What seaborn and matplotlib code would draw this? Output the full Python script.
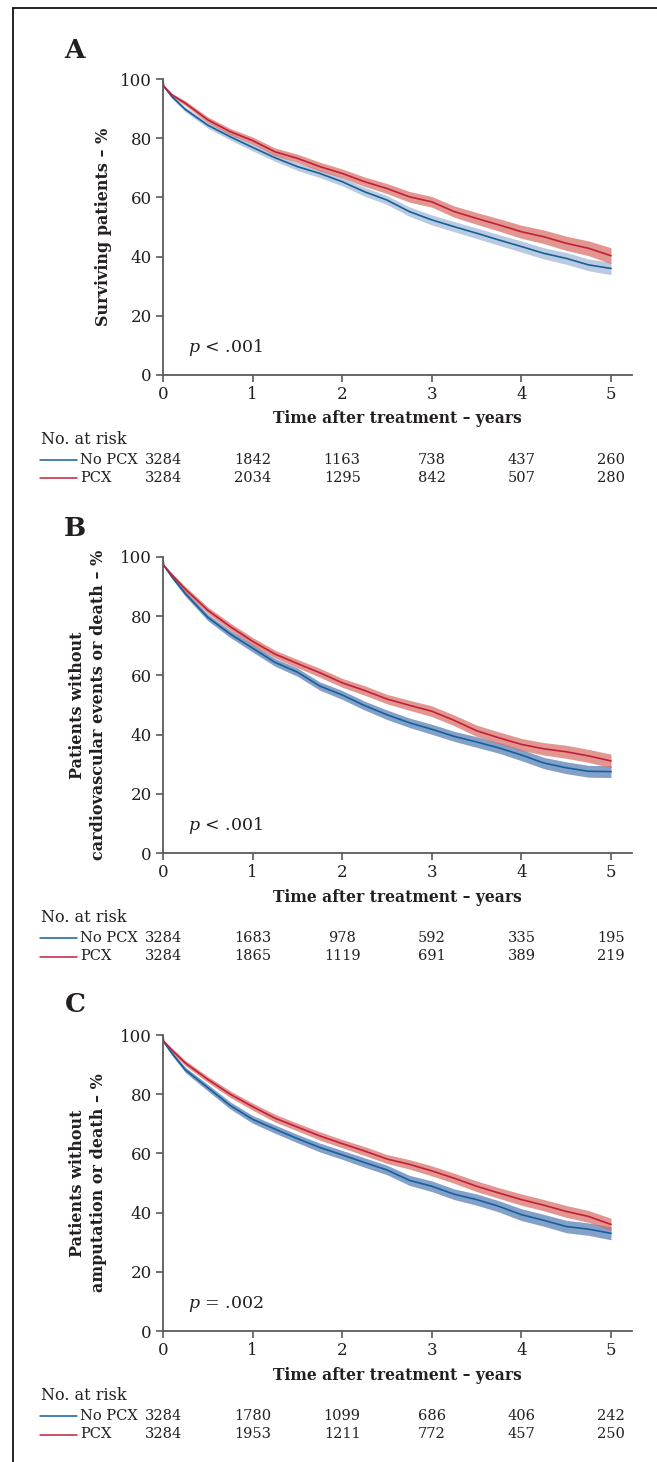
import numpy as np
import matplotlib
matplotlib.use("Agg")
import matplotlib.pyplot as plt
from matplotlib.lines import Line2D
from matplotlib.transforms import blended_transform_factory
import seaborn as sns

# ---- data -------------------------------------------------------------
years = [0, 0.005, 0.1, 0.25, 0.5, 0.75, 1.0, 1.25, 1.5, 1.75, 2.0, 2.25,
         2.5, 2.75, 3.0, 3.25, 3.5, 3.75, 4.0, 4.25, 4.5, 4.75, 5.0]

# A: overall survival (%)
a_nopcx = [100, 97.7, 94.0, 89.7, 84.4, 80.5, 76.9, 73.4, 70.4, 68.1, 65.3, 61.9,
           59.1, 55.2, 52.4, 50.1, 47.9, 45.6, 43.4, 41.1, 39.4, 37.2, 36.0]
a_pcx = [100, 97.7, 94.6, 91.8, 86.2, 82.2, 79.2, 75.4, 73.2, 70.4, 68.1, 65.3,
         63.0, 60.2, 58.5, 55.2, 52.9, 50.7, 48.4, 46.7, 44.5, 42.8, 40.3]
a_nopcx_ci = [0, 0.3, 0.6, 0.8, 1.0, 1.1, 1.2, 1.2, 1.3, 1.4, 1.4, 1.5,
              1.5, 1.6, 1.7, 1.7, 1.8, 1.8, 1.9, 1.9, 2.0, 2.0, 2.1]
a_pcx_ci = [0, 0.3, 0.6, 0.8, 1.0, 1.1, 1.2, 1.3, 1.4, 1.5, 1.5, 1.6,
            1.7, 1.8, 1.8, 1.9, 2.0, 2.1, 2.2, 2.3, 2.4, 2.5, 2.7]

# B: free from cardiovascular events or death (%)
b_nopcx = [100, 97.3, 93.3, 87.6, 79.6, 74.0, 69.2, 64.4, 61.1, 56.4, 53.4, 49.8,
           46.7, 44.0, 41.8, 39.4, 37.5, 35.5, 33.1, 30.4, 28.8, 27.6, 27.5]
b_pcx = [100, 97.3, 93.9, 89.1, 82.0, 76.5, 71.5, 67.2, 64.0, 60.9, 57.5, 54.9,
         52.0, 49.9, 47.9, 44.8, 41.3, 38.9, 36.7, 35.2, 34.2, 32.8, 31.1]
b_nopcx_ci = [0, 0.3, 0.7, 0.9, 1.1, 1.2, 1.3, 1.3, 1.4, 1.4, 1.5, 1.5,
              1.6, 1.6, 1.7, 1.7, 1.8, 1.8, 1.9, 1.9, 2.0, 2.0, 2.0]
b_pcx_ci = [0, 0.3, 0.7, 0.9, 1.1, 1.2, 1.3, 1.3, 1.4, 1.5, 1.5, 1.6,
            1.6, 1.7, 1.8, 1.8, 1.9, 2.0, 2.0, 2.1, 2.2, 2.2, 2.3]

# C: free from amputation or death (%)
c_nopcx = [100, 97.8, 93.8, 88.2, 82.2, 76.2, 71.5, 68.2, 65.0, 62.0, 59.5, 56.9,
           54.4, 50.9, 48.9, 46.2, 44.4, 42.1, 39.3, 37.4, 35.3, 34.4, 33.0]
c_pcx = [100, 98.0, 94.9, 90.5, 85.0, 80.0, 75.8, 71.9, 68.9, 65.9, 63.3, 60.8,
         58.1, 56.3, 54.1, 51.6, 48.9, 46.6, 44.4, 42.5, 40.4, 38.7, 36.0]
c_nopcx_ci = [0, 0.3, 0.7, 0.9, 1.1, 1.2, 1.3, 1.4, 1.4, 1.5, 1.5, 1.6,
              1.6, 1.7, 1.8, 1.8, 1.9, 1.9, 2.0, 2.0, 2.1, 2.1, 2.2]
c_pcx_ci = [0, 0.3, 0.7, 0.9, 1.0, 1.1, 1.2, 1.3, 1.3, 1.4, 1.4, 1.5,
            1.5, 1.6, 1.7, 1.7, 1.8, 1.8, 1.9, 1.9, 2.0, 2.0, 2.1]

risk_years = [0, 1, 2, 3, 4, 5]
a_risk_nopcx = [3284, 1842, 1163, 738, 437, 260]
a_risk_pcx = [3284, 2034, 1295, 842, 507, 280]
b_risk_nopcx = [3284, 1683, 978, 592, 335, 195]
b_risk_pcx = [3284, 1865, 1119, 691, 389, 219]
c_risk_nopcx = [3284, 1780, 1099, 686, 406, 242]
c_risk_pcx = [3284, 1953, 1211, 772, 457, 250]

group_names = ["No PCX", "PCX"]
panel_letters = ["A", "B", "C"]
y_titles = ["Surviving patients \u2013 %",
            "Patients without\ncardiovascular events or death \u2013 %",
            "Patients without\namputation or death \u2013 %"]
p_texts = ["$p$ < .001", "$p$ < .001", "$p$ = .002"]
x_title = "Time after treatment \u2013 years"
yticks = [0, 20, 40, 60, 80, 100]
xticks = [0, 1, 2, 3, 4, 5]

# ---- style ------------------------------------------------------------
sns.set_theme(style="ticks")
plt.rcParams["font.family"] = ["DejaVu Serif"]
plt.rcParams["mathtext.fontset"] = "dejavuserif"
TXT = "#231f20"
SPINE = "#5a5a5a"
BLUE = "#14609a"
RED = "#c21f3a"
RED_BAND = "#d66a60"
BLUE_BAND_LIGHT = "#a3b9d8"
BLUE_BAND_DARK = "#5a80b6"

W, H = 657, 1462
fig = plt.figure(figsize=(W / 100, H / 100), dpi=100)

# outer frame (top and left edges)
fig.add_artist(Line2D([13 / W, 1.0], [1 - 8 / H, 1 - 8 / H],
                      transform=fig.transFigure, color="black", lw=1.2))
fig.add_artist(Line2D([13 / W, 13 / W], [1 - 8 / H, 0.0],
                      transform=fig.transFigure, color="black", lw=1.2))

ax_left, ax_right = 163, 632
ax_tops = [79, 557, 1035]
ax_h = 296
letter_y = [50, 528, 1005]

panels = [
    (a_nopcx, a_pcx, a_nopcx_ci, a_pcx_ci, a_risk_nopcx, a_risk_pcx, BLUE_BAND_LIGHT),
    (b_nopcx, b_pcx, b_nopcx_ci, b_pcx_ci, b_risk_nopcx, b_risk_pcx, BLUE_BAND_DARK),
    (c_nopcx, c_pcx, c_nopcx_ci, c_pcx_ci, c_risk_nopcx, c_risk_pcx, BLUE_BAND_DARK),
]

t = np.array(years)
for i, (s0, s1, ci0, ci1, r0, r1, bband) in enumerate(panels):
    top = ax_tops[i]
    ax = fig.add_axes([ax_left / W, 1 - (top + ax_h) / H,
                       (ax_right - ax_left) / W, ax_h / H])
    s0, s1, ci0, ci1 = map(np.array, (s0, s1, ci0, ci1))

    ax.fill_between(t, s0 - ci0, s0 + ci0, color=bband, alpha=0.75, lw=0)
    ax.fill_between(t, s1 - ci1, s1 + ci1, color=RED_BAND, alpha=0.7, lw=0)
    sns.lineplot(x=t, y=s0, ax=ax, color=BLUE, lw=1.2, errorbar=None)
    sns.lineplot(x=t, y=s1, ax=ax, color=RED, lw=1.2, errorbar=None)

    ax.set_xlim(0, (ax_right - ax_left) / 89.6)
    ax.set_ylim(0, 100)
    ax.set_xticks(xticks)
    ax.set_yticks(yticks)
    sns.despine(ax=ax)
    for sp in ("left", "bottom"):
        ax.spines[sp].set_color(SPINE)
        ax.spines[sp].set_linewidth(1.3)
    ax.tick_params(axis="both", direction="out", length=5, width=1.2,
                   color=SPINE, labelsize=12, labelcolor=TXT, pad=3)

    ax.set_xlabel(x_title, fontsize=11.2, fontweight="bold", color=TXT)
    ax.xaxis.set_label_coords(0.5, -44 / ax_h)
    ax.xaxis.label.set_verticalalignment("center")
    ax.set_ylabel(y_titles[i], fontsize=11.5, fontweight="bold", color=TXT,
                  linespacing=1.35)
    ycx = -59 if i == 0 else -75
    ax.yaxis.set_label_coords(ycx / (ax_right - ax_left), 0.5)
    ax.yaxis.label.set_verticalalignment("center")

    ax.text(0.28, 9.2, p_texts[i], fontsize=12.5, color=TXT, va="center", ha="left")

    fig.text(75 / W, 1 - letter_y[i] / H, panel_letters[i], fontsize=19,
             fontweight="bold", color=TXT, ha="center", va="center")

    # number-at-risk table
    tr = blended_transform_factory(ax.transData, ax.transAxes)
    axw = ax_right - ax_left
    ax.text(-122 / axw, -65 / ax_h, "No. at risk", transform=ax.transAxes,
            fontsize=11.5, color=TXT, ha="left", va="center")
    for j, (counts, col) in enumerate(((r0, BLUE), (r1, RED))):
        yy = -(85 + 18.5 * j) / ax_h
        ax.add_line(Line2D([-123 / axw, -86 / axw], [yy, yy], transform=ax.transAxes,
                           color=col, lw=1.1, clip_on=False))
        ax.text(-83 / axw, yy, group_names[j], transform=ax.transAxes,
                fontsize=10.5, color=TXT, ha="left", va="center")
        for x, n in zip(risk_years, counts):
            ax.text(x, yy, str(n), transform=tr, fontsize=10.5, color=TXT,
                    ha="center", va="center")

fig.savefig("out.png", dpi=100)
